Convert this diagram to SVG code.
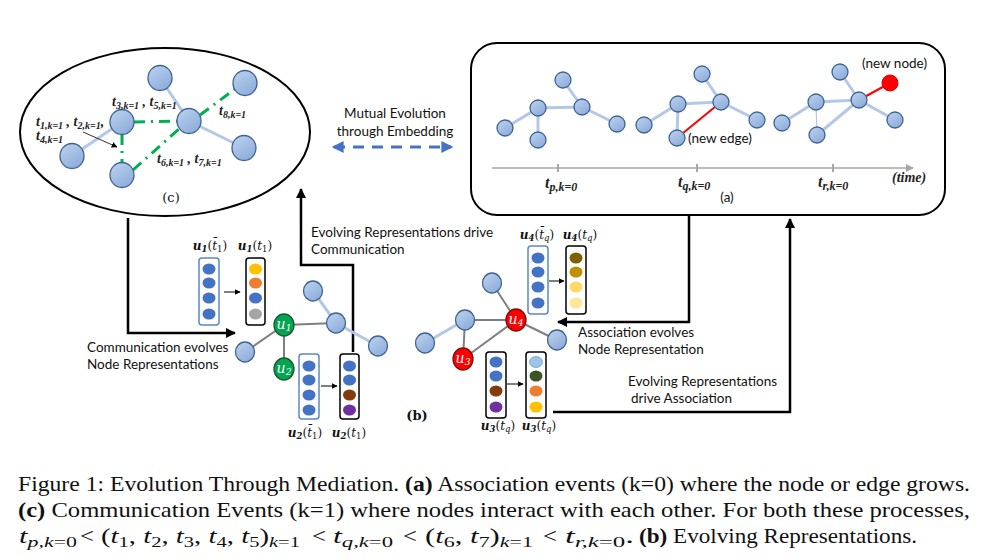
<svg xmlns="http://www.w3.org/2000/svg" width="988" height="560" viewBox="0 0 988 560">
<defs>
<linearGradient id="gb" x1="0" y1="0" x2="0.7" y2="1">
<stop offset="0" stop-color="#BDD3F0"/><stop offset="1" stop-color="#8EADDB"/>
</linearGradient>
<marker id="ak" viewBox="0 0 10 10" refX="9" refY="5" markerWidth="10" markerHeight="10" markerUnits="userSpaceOnUse" orient="auto"><path d="M0,0 L10,5 L0,10 z" fill="#000"/></marker>
<marker id="as" viewBox="0 0 10 10" refX="9" refY="5" markerWidth="6" markerHeight="6" markerUnits="userSpaceOnUse" orient="auto"><path d="M0,0 L10,5 L0,10 z" fill="#000"/></marker>
<marker id="ag" viewBox="0 0 10 10" refX="9" refY="5" markerWidth="8" markerHeight="8" markerUnits="userSpaceOnUse" orient="auto"><path d="M0,0 L10,5 L0,10 z" fill="#A6A6A6"/></marker>
<marker id="abl" viewBox="0 0 10 10" refX="8" refY="5" markerWidth="13" markerHeight="12" markerUnits="userSpaceOnUse" orient="auto-start-reverse"><path d="M0,0 L10,5 L0,10 z" fill="#4472C4"/></marker>
</defs>
<style>
.nd{fill:url(#gb);stroke:#3E6391;stroke-width:1.3}
.lb{stroke:#B4C7E7;stroke-width:3;fill:none}
.gr{stroke:#7F7F7F;stroke-width:2;fill:none}
.gd{stroke:#00B050;stroke-width:3;fill:none;stroke-dasharray:11 6 2 6}
.rd{stroke:#FF0000;stroke-width:2;fill:none}
.cn{stroke:#000;stroke-width:2.5;fill:none}
.vb{fill:#fff;stroke:#5B86C9;stroke-width:1.5}
.vk{fill:#fff;stroke:#000;stroke-width:1.5}
.sn{font-family:Lato,"Open Sans",sans-serif;font-size:13.5px;fill:#111}
.mt{font-family:"Liberation Serif","Times New Roman",serif;font-weight:bold;font-style:italic;font-size:14px;fill:#222}
.ms{font-size:10px}
.tl{font-family:"Liberation Serif","Times New Roman",serif;font-weight:bold;font-style:italic;font-size:16px;fill:#222}
.tls{font-size:12px}
.ul{font-family:"DejaVu Serif",serif;font-size:12px;fill:#111;text-anchor:middle}
.ub{font-weight:bold;font-style:italic}
.ui{font-style:italic}
.us{font-size:8.5px}
.nl{font-family:"DejaVu Serif",serif;font-style:italic;font-size:14px;fill:#fff;text-anchor:middle}
.cap{font-family:"Liberation Serif","Times New Roman",serif;font-size:21px;fill:#111}
.cs{font-size:15px}
.it{font-style:italic}
.bd{font-weight:bold}
</style>
<rect width="988" height="560" fill="#fff"/>

<!-- panel (c) -->
<g id="panel-c">
<ellipse cx="165" cy="132" rx="145" ry="84" fill="#fff" stroke="#000" stroke-width="2"/>
<line class="lb" x1="160" y1="78" x2="189" y2="121"/>
<line class="lb" x1="189" y1="121" x2="244" y2="148"/>
<line class="lb" x1="122" y1="122" x2="72" y2="156"/>
<line class="gd" x1="134" y1="122" x2="177" y2="121"/>
<line class="gd" x1="122" y1="134" x2="122" y2="163"/>
<line class="gd" x1="133" y1="170" x2="179" y2="129"/>
<line class="gd" x1="200" y1="115" x2="235" y2="89"/>
<g id="c-n1"><ellipse class="nd" cx="160" cy="78" rx="12" ry="12.5"/></g>
<g id="c-n2"><ellipse class="nd" cx="245" cy="83" rx="12" ry="12.5"/></g>
<g id="c-n3"><ellipse class="nd" cx="122" cy="122" rx="12" ry="12.5"/></g>
<g id="c-n4"><ellipse class="nd" cx="189" cy="121" rx="12" ry="12.5"/></g>
<g id="c-n5"><ellipse class="nd" cx="72" cy="156" rx="12" ry="12.5"/></g>
<g id="c-n6"><ellipse class="nd" cx="122" cy="175" rx="12" ry="12.5"/></g>
<g id="c-n7"><ellipse class="nd" cx="244" cy="148" rx="12" ry="12.5"/></g>
<line x1="83" y1="132" x2="117" y2="147" stroke="#000" stroke-width="0.8" marker-end="url(#as)"/>
<text class="mt" x="112" y="106">t<tspan class="ms" dy="3">3,k=1</tspan><tspan dy="-3"> , t</tspan><tspan class="ms" dy="3">5,k=1</tspan></text>
<text class="mt" x="36" y="126">t<tspan class="ms" dy="3">1,k=1</tspan><tspan dy="-3"> , t</tspan><tspan class="ms" dy="3">2,k=1</tspan><tspan dy="-3">,</tspan></text>
<text class="mt" x="36" y="140">t<tspan class="ms" dy="3">4,k=1</tspan></text>
<text class="mt" x="219" y="115">t<tspan class="ms" dy="3">8,k=1</tspan></text>
<text class="mt" x="157" y="163">t<tspan class="ms" dy="3">6,k=1</tspan><tspan dy="-3"> , t</tspan><tspan class="ms" dy="3">7,k=1</tspan></text>
<text x="171" y="202" font-family="'DejaVu Serif',serif" font-size="13" text-anchor="middle" fill="#111">(c)</text>
</g>

<!-- mutual evolution -->
<g id="mutual">
<text class="sn" x="395" y="118" text-anchor="middle">Mutual Evolution</text>
<text class="sn" x="395" y="136" text-anchor="middle">through Embedding</text>
<line x1="334" y1="147" x2="451" y2="147" stroke="#4472C4" stroke-width="3" stroke-dasharray="11 8" marker-start="url(#abl)" marker-end="url(#abl)"/>
</g>

<!-- panel (a) -->
<g id="panel-a">
<rect x="471" y="43" width="474" height="172" rx="26" fill="#fff" stroke="#000" stroke-width="2"/>
<line x1="492" y1="168" x2="913" y2="168" stroke="#A6A6A6" stroke-width="1.5" marker-end="url(#ag)"/>
<line x1="558" y1="164" x2="558" y2="172" stroke="#A6A6A6" stroke-width="2"/>
<line x1="697" y1="164" x2="697" y2="172" stroke="#A6A6A6" stroke-width="2"/>
<line x1="833" y1="164" x2="833" y2="172" stroke="#A6A6A6" stroke-width="2"/>
<path class="lb" d="M505,128 L538,108 L582,107 L617,124 M563,80 L582,107 M538,108 L538,140"/>
<g id="a1-n1"><circle class="nd" cx="505" cy="128" r="8"/></g>
<g id="a1-n2"><circle class="nd" cx="538" cy="108" r="8"/></g>
<g id="a1-n3"><circle class="nd" cx="563" cy="80" r="8"/></g>
<g id="a1-n4"><circle class="nd" cx="582" cy="107" r="8"/></g>
<g id="a1-n5"><circle class="nd" cx="617" cy="124" r="8"/></g>
<g id="a1-n6"><circle class="nd" cx="538" cy="140" r="8"/></g>
<path class="lb" d="M644,125 L678,104 L721,102 L757,120 M702,74 L721,102 M678,104 L677,138"/>
<line class="rd" x1="677" y1="138" x2="721" y2="102"/>
<g id="a2-n1"><circle class="nd" cx="644" cy="125" r="8"/></g>
<g id="a2-n2"><circle class="nd" cx="678" cy="104" r="8"/></g>
<g id="a2-n3"><circle class="nd" cx="702" cy="74" r="8"/></g>
<g id="a2-n4"><circle class="nd" cx="721" cy="102" r="8"/></g>
<g id="a2-n5"><circle class="nd" cx="757" cy="120" r="8"/></g>
<g id="a2-n6"><circle class="nd" cx="677" cy="138" r="8"/></g>
<text class="sn" x="688" y="143" font-size="13">(new edge)</text>
<path class="lb" d="M782,123 L816,102 L859,100 L895,120 M840,72 L859,100 M817,135 L859,100"/>
<line x1="816" y1="102" x2="817" y2="135" stroke="#B4C7E7" stroke-width="1.2"/>
<line class="rd" x1="859" y1="100" x2="890" y2="83"/>
<g id="a3-n1"><circle class="nd" cx="782" cy="123" r="8"/></g>
<g id="a3-n2"><circle class="nd" cx="816" cy="102" r="8"/></g>
<g id="a3-n3"><circle class="nd" cx="840" cy="72" r="8"/></g>
<g id="a3-n4"><circle class="nd" cx="859" cy="100" r="8"/></g>
<g id="a3-n5"><circle class="nd" cx="895" cy="120" r="8"/></g>
<g id="a3-n6"><circle class="nd" cx="817" cy="135" r="8"/></g>
<g id="a3-new"><circle cx="890" cy="83" r="8" fill="#FF0000" stroke="#E00000" stroke-width="1"/></g>
<text class="sn" x="862" y="68" font-size="13">(new node)</text>
<text class="tl" x="545" y="188">t<tspan class="tls" dy="3">p,k=0</tspan></text>
<text class="tl" x="678" y="187">t<tspan class="tls" dy="3">q,k=0</tspan></text>
<text class="tl" x="818" y="187">t<tspan class="tls" dy="3">r,k=0</tspan></text>
<text x="892" y="182" font-family="'Liberation Serif',serif" font-weight="bold" font-style="italic" font-size="14" fill="#222">(time)</text>
<text class="sn" x="727" y="202" text-anchor="middle" font-size="13">(a)</text>
</g>

<!-- connectors -->
<g id="connectors">
<path class="cn" d="M128,218 V333 H235" marker-end="url(#ak)"/>
<path class="cn" d="M353,352 V265 H301 V189" marker-end="url(#ak)"/>
<path class="cn" d="M689,216 V322 H558" marker-end="url(#ak)"/>
<path class="cn" d="M553,412 H790 V219" marker-end="url(#ak)"/>
</g>
<g id="conn-labels">
<text class="sn" x="311" y="237">Evolving Representations drive</text>
<text class="sn" x="311" y="254">Communication</text>
<text class="sn" x="87" y="352">Communication evolves</text>
<text class="sn" x="87" y="369">Node Representations</text>
<text class="sn" x="578" y="337">Association evolves</text>
<text class="sn" x="578" y="354">Node Representation</text>
<text class="sn" x="628" y="386">Evolving Representations</text>
<text class="sn" x="631" y="403">drive Association</text>
</g>

<!-- panel (b) -->
<g id="panel-b">
<path class="gr" d="M245,352 L284,325 L336,323 M284,325 L284,369"/>
<path class="lb" d="M313,291 L336,323 L378,346"/>
<g id="b-n1"><ellipse class="nd" cx="313" cy="291" rx="9.5" ry="10"/></g>
<g id="b-n2"><ellipse class="nd" cx="336" cy="323" rx="9.5" ry="10"/></g>
<g id="b-n3"><ellipse class="nd" cx="378" cy="346" rx="9.5" ry="10"/></g>
<g id="b-n4"><ellipse class="nd" cx="245" cy="352" rx="9.5" ry="10"/></g>
<g id="b-u1"><ellipse cx="284" cy="325" rx="10" ry="11" fill="#00A651" stroke="#1E5631" stroke-width="1.3"/><text class="nl" x="284" y="329">u<tspan font-size="9" dy="2">1</tspan></text></g>
<g id="b-u2"><ellipse cx="284" cy="369" rx="10" ry="11" fill="#00A651" stroke="#1E5631" stroke-width="1.3"/><text class="nl" x="284" y="373">u<tspan font-size="9" dy="2">2</tspan></text></g>

<g id="vec-u1-old">
<rect class="vb" x="199" y="258" width="20" height="67" rx="3"/>
<ellipse cx="209" cy="269" rx="6.5" ry="5.5" fill="#4472C4"/><ellipse cx="209" cy="283" rx="6.5" ry="5.5" fill="#4472C4"/><ellipse cx="209" cy="298" rx="6.5" ry="5.5" fill="#4472C4"/><ellipse cx="209" cy="314" rx="6.5" ry="5.5" fill="#4472C4"/>
<text class="ul" x="210" y="250"><tspan class="ub">u</tspan><tspan class="ub us" dy="2">1</tspan><tspan dy="-2">(</tspan><tspan class="ui">t̄</tspan><tspan class="us" dy="2">1</tspan><tspan dy="-2">)</tspan></text>
</g>
<line x1="224" y1="292" x2="240" y2="292" stroke="#000" stroke-width="1" marker-end="url(#as)"/>
<g id="vec-u1-new">
<rect class="vk" x="246" y="258" width="19" height="67" rx="3"/>
<ellipse cx="255.5" cy="269" rx="6.5" ry="5.5" fill="#FFC000"/><ellipse cx="255.5" cy="283" rx="6.5" ry="5.5" fill="#ED7D31"/><ellipse cx="255.5" cy="298" rx="6.5" ry="5.5" fill="#4472C4"/><ellipse cx="255.5" cy="314" rx="6.5" ry="5.5" fill="#A5A5A5"/>
<text class="ul" x="255" y="250"><tspan class="ub">u</tspan><tspan class="ub us" dy="2">1</tspan><tspan dy="-2">(</tspan><tspan class="ui">t</tspan><tspan class="us" dy="2">1</tspan><tspan dy="-2">)</tspan></text>
</g>
<g id="vec-u2-old">
<rect class="vb" x="299" y="354" width="20" height="65" rx="3"/>
<ellipse cx="309" cy="366" rx="6.5" ry="5.5" fill="#4472C4"/><ellipse cx="309" cy="380" rx="6.5" ry="5.5" fill="#4472C4"/><ellipse cx="309" cy="395" rx="6.5" ry="5.5" fill="#4472C4"/><ellipse cx="309" cy="410" rx="6.5" ry="5.5" fill="#4472C4"/>
<text class="ul" x="305" y="437"><tspan class="ub">u</tspan><tspan class="ub us" dy="2">2</tspan><tspan dy="-2">(</tspan><tspan class="ui">t̄</tspan><tspan class="us" dy="2">1</tspan><tspan dy="-2">)</tspan></text>
</g>
<line x1="321" y1="386" x2="337" y2="386" stroke="#000" stroke-width="1" marker-end="url(#as)"/>
<g id="vec-u2-new">
<rect class="vk" x="340" y="354" width="19" height="65" rx="3"/>
<ellipse cx="349.5" cy="366" rx="6.5" ry="5.5" fill="#4472C4"/><ellipse cx="349.5" cy="380" rx="6.5" ry="5.5" fill="#4472C4"/><ellipse cx="349.5" cy="395" rx="6.5" ry="5.5" fill="#843C0C"/><ellipse cx="349.5" cy="410" rx="6.5" ry="5.5" fill="#7030A0"/>
<text class="ul" x="349" y="437"><tspan class="ub">u</tspan><tspan class="ub us" dy="2">2</tspan><tspan dy="-2">(</tspan><tspan class="ui">t</tspan><tspan class="us" dy="2">1</tspan><tspan dy="-2">)</tspan></text>
</g>

<path class="gr" d="M492,283 L516,320 M465,320 L516,320 M465,320 L463,359 L516,320 L557,340"/>
<line class="lb" x1="425" y1="343" x2="465" y2="320"/>
<g id="b-n5"><ellipse class="nd" cx="492" cy="283" rx="9.5" ry="10"/></g>
<g id="b-n6"><ellipse class="nd" cx="465" cy="320" rx="9.5" ry="10"/></g>
<g id="b-n7"><ellipse class="nd" cx="425" cy="343" rx="9.5" ry="10"/></g>
<g id="b-n8"><ellipse class="nd" cx="557" cy="340" rx="9.5" ry="10"/></g>
<g id="b-u4"><ellipse cx="516" cy="320" rx="10" ry="11" fill="#FF0000" stroke="#7A1010" stroke-width="1.3"/><text class="nl" x="516" y="324">u<tspan font-size="9" dy="2">4</tspan></text></g>
<g id="b-u3"><ellipse cx="463" cy="359" rx="10" ry="11" fill="#FF0000" stroke="#7A1010" stroke-width="1.3"/><text class="nl" x="463" y="363">u<tspan font-size="9" dy="2">3</tspan></text></g>

<g id="vec-u4-old">
<rect class="vb" x="528" y="246" width="20" height="68" rx="3"/>
<ellipse cx="538" cy="258" rx="6.5" ry="5.5" fill="#4472C4"/><ellipse cx="538" cy="272" rx="6.5" ry="5.5" fill="#4472C4"/><ellipse cx="538" cy="287" rx="6.5" ry="5.5" fill="#4472C4"/><ellipse cx="538" cy="303" rx="6.5" ry="5.5" fill="#4472C4"/>
<text class="ul" x="537" y="239"><tspan class="ub">u</tspan><tspan class="ub us" dy="2">4</tspan><tspan dy="-2">(</tspan><tspan class="ui">t̄</tspan><tspan class="us ui" dy="2">q</tspan><tspan dy="-2">)</tspan></text>
</g>
<line x1="549" y1="281" x2="564" y2="281" stroke="#000" stroke-width="1" marker-end="url(#as)"/>
<g id="vec-u4-new">
<rect class="vk" x="566" y="246" width="20" height="68" rx="3"/>
<ellipse cx="576" cy="258" rx="6.5" ry="5.5" fill="#7F6000"/><ellipse cx="576" cy="272" rx="6.5" ry="5.5" fill="#BF9000"/><ellipse cx="576" cy="287" rx="6.5" ry="5.5" fill="#FFD966"/><ellipse cx="576" cy="303" rx="6.5" ry="5.5" fill="#FFE699"/>
<text class="ul" x="580" y="239"><tspan class="ub">u</tspan><tspan class="ub us" dy="2">4</tspan><tspan dy="-2">(</tspan><tspan class="ui">t</tspan><tspan class="us ui" dy="2">q</tspan><tspan dy="-2">)</tspan></text>
</g>
<g id="vec-u3-old">
<rect class="vk" x="486" y="352" width="20" height="66" rx="3"/>
<ellipse cx="496" cy="362" rx="6.5" ry="5.5" fill="#4472C4"/><ellipse cx="496" cy="376" rx="6.5" ry="5.5" fill="#4472C4"/><ellipse cx="496" cy="391" rx="6.5" ry="5.5" fill="#843C0C"/><ellipse cx="496" cy="407" rx="6.5" ry="5.5" fill="#7030A0"/>
<text class="ul" x="498" y="430"><tspan class="ub">u</tspan><tspan class="ub us" dy="2">3</tspan><tspan dy="-2">(</tspan><tspan class="ui">t̄</tspan><tspan class="us ui" dy="2">q</tspan><tspan dy="-2">)</tspan></text>
</g>
<line x1="507" y1="384" x2="523" y2="384" stroke="#000" stroke-width="1" marker-end="url(#as)"/>
<g id="vec-u3-new">
<rect class="vk" x="526" y="352" width="20" height="66" rx="3"/>
<ellipse cx="536" cy="362" rx="6.5" ry="5.5" fill="#9DC3E6" stroke="#5B86C9" stroke-width="0.6"/><ellipse cx="536" cy="376" rx="6.5" ry="5.5" fill="#375623"/><ellipse cx="536" cy="391" rx="6.5" ry="5.5" fill="#ED7D31"/><ellipse cx="536" cy="407" rx="6.5" ry="5.5" fill="#FFC000"/>
<text class="ul" x="539" y="430"><tspan class="ub">u</tspan><tspan class="ub us" dy="2">3</tspan><tspan dy="-2">(</tspan><tspan class="ui">t</tspan><tspan class="us ui" dy="2">q</tspan><tspan dy="-2">)</tspan></text>
</g>
<text x="417" y="420" font-family="'DejaVu Serif',serif" font-weight="bold" font-size="13" text-anchor="middle" fill="#111">(b)</text>
</g>

<!-- caption -->
<g id="caption">
<text class="cap" x="18" y="491" textLength="952" lengthAdjust="spacingAndGlyphs">Figure 1: Evolution Through Mediation. <tspan class="bd">(a)</tspan> Association events (k=0) where the node or edge grows.</text>
<text class="cap" x="18" y="517" textLength="952" lengthAdjust="spacingAndGlyphs"><tspan class="bd">(c)</tspan> Communication Events (k=1) where nodes interact with each other. For both these processes,</text>
<text class="cap" x="19" y="543" textLength="58" lengthAdjust="spacingAndGlyphs"><tspan class="it">t</tspan><tspan class="cs" dy="4"><tspan class="it">p,k</tspan>=0</tspan></text>
<text class="cap" x="80" y="543" textLength="14" lengthAdjust="spacingAndGlyphs">&lt;</text>
<text class="cap" x="101" y="543" textLength="199" lengthAdjust="spacingAndGlyphs">(<tspan class="it">t</tspan><tspan class="cs" dy="4">1</tspan><tspan dy="-4">, </tspan><tspan class="it">t</tspan><tspan class="cs" dy="4">2</tspan><tspan dy="-4">, </tspan><tspan class="it">t</tspan><tspan class="cs" dy="4">3</tspan><tspan dy="-4">, </tspan><tspan class="it">t</tspan><tspan class="cs" dy="4">4</tspan><tspan dy="-4">, </tspan><tspan class="it">t</tspan><tspan class="cs" dy="4">5</tspan><tspan dy="-4">)</tspan><tspan class="cs" dy="4"><tspan class="it">k</tspan>=1</tspan></text>
<text class="cap" x="312" y="543" textLength="14" lengthAdjust="spacingAndGlyphs">&lt;</text>
<text class="cap" x="333" y="543" textLength="60" lengthAdjust="spacingAndGlyphs"><tspan class="it">t</tspan><tspan class="cs" dy="4"><tspan class="it">q,k</tspan>=0</tspan></text>
<text class="cap" x="403" y="543" textLength="14" lengthAdjust="spacingAndGlyphs">&lt;</text>
<text class="cap" x="425" y="543" textLength="108" lengthAdjust="spacingAndGlyphs">(<tspan class="it">t</tspan><tspan class="cs" dy="4">6</tspan><tspan dy="-4">, </tspan><tspan class="it">t</tspan><tspan class="cs" dy="4">7</tspan><tspan dy="-4">)</tspan><tspan class="cs" dy="4"><tspan class="it">k</tspan>=1</tspan></text>
<text class="cap" x="543" y="543" textLength="14" lengthAdjust="spacingAndGlyphs">&lt;</text>
<text class="cap" x="565" y="543" textLength="69" lengthAdjust="spacingAndGlyphs"><tspan class="it">t</tspan><tspan class="cs" dy="4"><tspan class="it">r,k</tspan>=0</tspan><tspan dy="-4">.</tspan></text>
<text class="cap" x="639" y="543" textLength="278" lengthAdjust="spacingAndGlyphs"><tspan class="bd">(b)</tspan> Evolving Representations.</text>
</g>
</svg>
